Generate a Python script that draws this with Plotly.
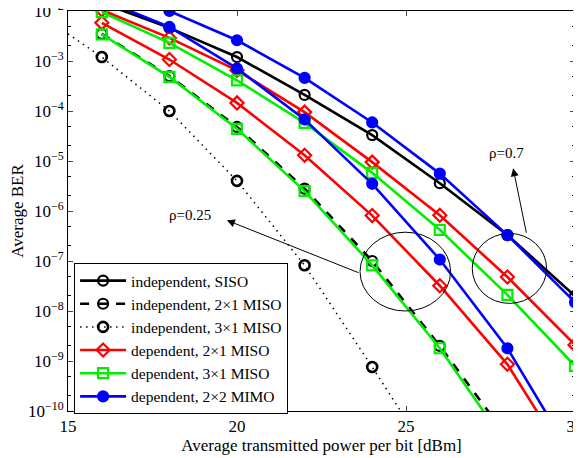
import plotly.graph_objects as go

# ---------------- data ----------------
P = [16, 18, 20, 22, 24, 26, 28, 30]

ber_ind_siso = [1.45e-2, 4.6e-3, 1.2e-3, 2.1e-4, 3.3e-5, 3.6e-6, 3.3e-7, 2.0e-8]
ber_ind_2x1 = [3.5e-3, 5.0e-4, 4.8e-5, 2.8e-6, 1.0e-7, 2.0e-9, 3.0e-11, None]
P_ind_3x1 = [15, 16, 18, 20, 22, 24, 26]
ber_ind_3x1 = [3.5e-3, 1.2e-3, 1.0e-4, 4.0e-6, 8.2e-8, 7.6e-10, 6.0e-12]

# rho = 0.25
ber_dep_2x1_a = [5.8e-3, 1.07e-3, 1.45e-4, 1.3e-5, 8.1e-7, 3.2e-8, 8.6e-10, 6.0e-12]
ber_dep_3x1_a = [3.4e-3, 4.8e-4, 4.4e-5, 2.5e-6, 8.2e-8, 1.8e-9, 2.0e-11, None]
ber_dep_2x2_a = [1.7e-2, 4.8e-3, 7.1e-4, 6.8e-5, 3.5e-6, 1.07e-7, 1.8e-9, 1.0e-11]
# rho = 0.7
ber_dep_2x1_b = [1.05e-2, 2.9e-3, 6.5e-4, 9.5e-5, 9.5e-6, 8.2e-7, 4.8e-8, 2.1e-9]
ber_dep_3x1_b = [9.5e-3, 2.3e-3, 4.1e-4, 5.8e-5, 5.8e-6, 4.2e-7, 2.1e-8, 8.0e-10]
ber_dep_2x2_b = [2.2e-2, 1.0e-2, 2.6e-3, 4.6e-4, 5.9e-5, 5.6e-6, 3.3e-7, 1.5e-8]

names = ["independent, SISO", "independent, 2×1 MISO", "independent, 3×1 MISO",
         "dependent, 2×1 MISO", "dependent, 3×1 MISO", "dependent, 2×2 MIMO"]

x_ticks = [15, 20, 25, 30]
y_exps = [-10, -9, -8, -7, -6, -5, -4, -3, -2]

FONT = "Liberation Serif"
LW = 2.6
MS = 10
DOT = "1.5px,4.5px"

fig = go.Figure()

def add(x, y, name, color, symbol, dash="solid", show=True, lw=LW, mlw=2.2):
    fig.add_trace(go.Scatter(
        x=x, y=y, name=name, mode="lines+markers", showlegend=show,
        line=dict(color=color, width=lw, dash=dash),
        marker=dict(symbol=symbol, size=MS, color=color, line=dict(color=color, width=mlw)),
        connectgaps=False))

add(P, ber_ind_siso, names[0], "black", "circle-open")
add(P, ber_ind_2x1, names[1], "black", "circle-open", dash="dash")

# 3x1 independent: dotted curve + separate circle markers (solid outlines)
fig.add_trace(go.Scatter(x=P_ind_3x1, y=ber_ind_3x1, mode="lines", showlegend=False,
                         line=dict(color="black", width=1.5, dash=DOT)))
mk_x = [p for p in P_ind_3x1 if p % 2 == 0]
mk_y = [b for p, b in zip(P_ind_3x1, ber_ind_3x1) if p % 2 == 0]
fig.add_trace(go.Scatter(x=mk_x, y=mk_y, mode="markers", showlegend=False,
                         marker=dict(symbol="circle-open", size=MS, color="black",
                                     line=dict(color="black", width=2.6))))
# legend entry
fig.add_trace(go.Scatter(x=[None], y=[None], mode="lines+markers", name=names[2],
                         line=dict(color="black", width=1.5, dash=DOT),
                         marker=dict(symbol="circle-open", size=MS, color="black",
                                     line=dict(color="black", width=2.6))))

add(P, ber_dep_2x1_a, names[3], "#ff0000", "diamond-open")
add(P, ber_dep_2x1_b, names[3], "#ff0000", "diamond-open", show=False)
add(P, ber_dep_3x1_a, names[4], "#00ee00", "square-open")
add(P, ber_dep_3x1_b, names[4], "#00ee00", "square-open", show=False)
add(P, ber_dep_2x2_a, names[5], "#0000ff", "circle")
add(P, ber_dep_2x2_b, names[5], "#0000ff", "circle", show=False)

# ellipses (rho groups)
fig.add_shape(type="circle", xref="x", yref="paper", x0=23.64, x1=26.32, y0=0.25, y1=0.447,
              line=dict(color="black", width=1))
fig.add_shape(type="circle", xref="x", yref="paper", x0=26.96, x1=29.16, y0=0.269, y1=0.444,
              line=dict(color="black", width=1))

# arrows
fig.add_annotation(x=19.7, y=-6.186, ax=23.64, ay=-7.246, xref="x", yref="y", axref="x", ayref="y",
                   showarrow=True, arrowhead=2, arrowsize=1.6, arrowwidth=1, arrowcolor="black", text="")
fig.add_annotation(x=28.17, y=-5.146, ax=28.57, ay=-6.466, xref="x", yref="y", axref="x", ayref="y",
                   showarrow=True, arrowhead=2, arrowsize=1.6, arrowwidth=1, arrowcolor="black", text="")
fig.add_annotation(x=18.6, y=-6.086, xref="x", yref="y", text="ρ=0.25", showarrow=False,
                   font=dict(family=FONT, size=15, color="black"))
fig.add_annotation(x=27.98, y=-4.834, xref="x", yref="y", text="ρ=0.7", showarrow=False,
                   font=dict(family=FONT, size=15, color="black"))

# the page body adds an 8 px offset; size/margins compensate for it
fig.update_layout(
    width=573, height=450,
    margin=dict(l=60, r=6, t=3, b=47),
    paper_bgcolor="white", plot_bgcolor="white",
    font=dict(family=FONT, size=16, color="black"),
    showlegend=True,
    legend=dict(x=0.012, y=0.37, xanchor="left", yanchor="top",
                bordercolor="black", borderwidth=1, bgcolor="white",
                font=dict(family=FONT, size=15.5), itemwidth=46,
                tracegroupgap=0),
)
fig.update_xaxes(range=[15, 30], tickvals=x_ticks, ticks="inside", ticklen=5,
                 showline=True, linecolor="black", linewidth=1, mirror="allticks",
                 showgrid=False, zeroline=False, automargin=False,
                 ticklabeloverflow="allow",
                 tickfont=dict(family=FONT, size=17),
                 title=dict(text="Average transmitted power per bit [dBm]", standoff=2,
                            font=dict(family=FONT, size=17)))
fig.update_yaxes(type="log", range=[-10, -2],
                 tickvals=[10.0 ** e for e in y_exps],
                 ticktext=["10<sup>−%d</sup>" % (-e) for e in y_exps],
                 ticks="inside", ticklen=5,
                 showline=True, linecolor="black", linewidth=1, mirror="allticks",
                 showgrid=False, zeroline=False, automargin=False,
                 ticklabeloverflow="allow",
                 tickfont=dict(family=FONT, size=17),
                 minor=dict(ticks="inside", ticklen=3, tickcolor="black", showgrid=False),
                 title=dict(text="Average BER", standoff=4, font=dict(family=FONT, size=17)))

fig.write_html("out.html")
